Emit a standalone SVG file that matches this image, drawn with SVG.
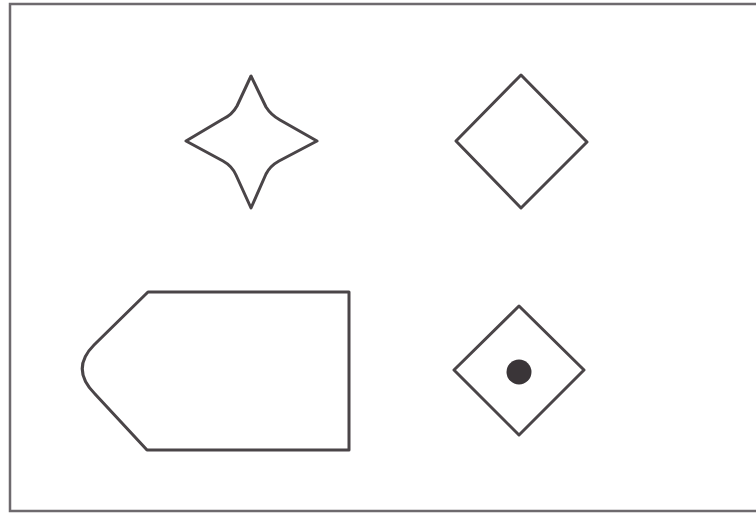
<svg xmlns="http://www.w3.org/2000/svg" width="756" height="515" viewBox="0 0 756 515">
<style>
.s{fill:none;stroke:#4a4548;stroke-width:3;stroke-linejoin:round}
.f{fill:none;stroke:#6e6a6e;stroke-width:2.5}
</style>
<rect width="756" height="515" fill="#ffffff"/>
<rect class="f" x="10" y="4" width="760" height="507"/>
<g id="star">
<path class="s" d="M251,76 L237,106 Q232,115 223,119 L186,141 L223,161 Q232,166 236,175 L251,208 L266,174 Q270,166 279,161 L317,141 L280,120 Q271,115 266,107 Z"/>
</g>
<g id="diamond">
<path class="s" d="M521,75 L587,142 L521,208 L456,141 Z"/>
</g>
<g id="tag">
<path class="s" d="M148,292 L349,292 L349,450 L147,450 L95,394 Q70,369 94,345 Z"/>
</g>
<g id="diamond-dot">
<path class="s" d="M519,306 L584,370 L519,435 L454,370 Z"/>
<circle cx="519" cy="372" r="12.5" fill="#3a3538"/>
</g>
<g id="connectors"></g>
</svg>
